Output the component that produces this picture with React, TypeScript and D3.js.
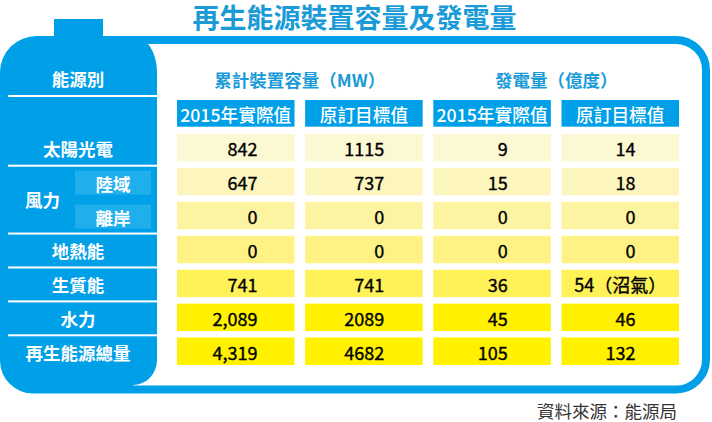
import React, { useEffect } from "react";
import * as d3 from "d3";

// ---- data ----
const title = "再生能源裝置容量及發電量";
const rowHeader = "能源別";
const groupHeaders = ["累計裝置容量（MW）", "發電量（億度）"];
const subHeaders = ["2015年實際值", "原訂目標值", "2015年實際值", "原訂目標值"];
const rowKeys = ["solar", "windOn", "windOff", "geo", "bio", "hydro", "total"];
const rowLabels = ["太陽光電", "陸域", "離岸", "地熱能", "生質能", "水力", "再生能源總量"];
const windGroupLabel = "風力";
const capacity2015 = [842, 647, 0, 0, 741, 2089, 4319];
const capacityTarget = [1115, 737, 0, 0, 741, 2089, 4682];
const generation2015 = [9, 15, 0, 0, 36, 45, 105];
const generationTarget = [14, 18, 0, 0, 54, 46, 132];
const generationTargetNote = ["", "", "", "", "（沼氣）", "", ""];
const sourceNote = "資料來源：能源局";

// ---- layout / style ----
const W = 712;
const H = 422;
const BLUE = "#00a0e9";
const SUB_BLUE = "#1fafed";
const TITLE_BLUE = "#1a9bd8";
const rowFills = ["#fbf8d3", "#fcf6be", "#fdf4a1", "#fef285", "#fff158", "#fff100", "#fff100"];
const colFormats = [",", "d", "d", "d"];
const colAnchorOffset = [80.5, 79, 74.5, 74];
const FONT = "'Noto Sans CJK TC', 'Noto Sans', sans-serif";

const columns = [capacity2015, capacityTarget, generation2015, generationTarget];

export default function App() {
  useEffect(() => {
    document.body.style.margin = "0";
  }, []);

  const x = d3.scaleBand<number>().domain([0, 1, 2, 3]).range([177, 679]).paddingInner(0.0832).paddingOuter(0);
  const y = d3.scaleBand<string>().domain(rowKeys).range([134, 365]).paddingInner(0.19).paddingOuter(0);
  const bw = x.bandwidth();
  const bh = y.bandwidth();
  const cy = (i: number) => (y(rowKeys[i]) as number) + bh / 2;

  const sepAfter = [0, 2, 3, 4, 5];
  const sepY = (i: number) => ((y(rowKeys[i]) as number) + bh + (y(rowKeys[i + 1]) as number)) / 2 + 1;

  const bodyPath =
    "M0,72 A37,36 0 0 1 37,36 L133,36 A24,36 0 0 1 157,72 L157,360 A24,25 0 0 1 133,385 L133,393.5 L33,393.5 A33,33 0 0 1 0,360.5 Z";
  const framePath = "M133,40 H676 A30,30 0 0 1 706,70 V359.5 A30,30 0 0 1 676,389.5 H133";

  const leftCx = 78;

  return (
    <div style={{ position: "absolute", left: 0, top: 0 }}>
      <svg width={W} height={H} viewBox={`0 0 ${W} ${H}`} style={{ display: "block", background: "#fff" }} fontFamily={FONT}>
        <rect x={0} y={0} width={W} height={H} fill="#fff" />
        <text x={354.5} y={16.5} textAnchor="middle" dominantBaseline="central" fontSize={27} fontWeight={700} fill={TITLE_BLUE}>
          {title}
        </text>

        <path d={framePath} fill="none" stroke={BLUE} strokeWidth={8} />
        <rect x={54} y={19} width={49} height={19} fill={BLUE} />
        <path d={bodyPath} fill={BLUE} />

        <text x={leftCx} y={78.5} textAnchor="middle" dominantBaseline="central" fontSize={17.5} fontWeight={700} fill="#fff">
          {rowHeader}
        </text>
        <rect x={8} y={95} width={149} height={2} fill="#fff" />
        {sepAfter.map((i) => (
          <rect key={"sep" + i} x={8} y={sepY(i) - 1} width={149} height={2} fill="#fff" />
        ))}

        {rowKeys.map((k, i) => {
          if (k === "windOn" || k === "windOff") {
            return (
              <g key={"lab" + k}>
                <rect x={75} y={cy(i) + 1 - 12} width={76} height={24} fill={SUB_BLUE} />
                <text x={113} y={cy(i) + 1.5} textAnchor="middle" dominantBaseline="central" fontSize={17.5} fontWeight={700} fill="#fff">
                  {rowLabels[i]}
                </text>
              </g>
            );
          }
          return (
            <text key={"lab" + k} x={leftCx} y={cy(i) + 1} textAnchor="middle" dominantBaseline="central" fontSize={17.5} fontWeight={700} fill="#fff">
              {rowLabels[i]}
            </text>
          );
        })}
        <text x={42.5} y={(cy(1) + cy(2)) / 2 + 1} textAnchor="middle" dominantBaseline="central" fontSize={17.5} fontWeight={700} fill="#fff">
          {windGroupLabel}
        </text>

        {groupHeaders.map((g, gi) => {
          const x0 = x(gi * 2) as number;
          const x1 = (x(gi * 2 + 1) as number) + bw;
          return (
            <text key={"gh" + gi} x={(x0 + x1) / 2} y={79} textAnchor="middle" dominantBaseline="central" fontSize={17.5} fontWeight={700} fill={TITLE_BLUE}>
              {g}
            </text>
          );
        })}

        {subHeaders.map((s, ci) => (
          <g key={"sh" + ci}>
            <rect x={x(ci) as number} y={100} width={bw} height={26.7} fill={BLUE} />
            <text x={(x(ci) as number) + bw / 2} y={113.5} textAnchor="middle" dominantBaseline="central" fontSize={17.7} fontWeight={500} fill="#fff">
              {s}
            </text>
          </g>
        ))}

        {rowKeys.map((k, ri) => (
          <g key={"row" + k}>
            {columns.map((col, ci) => {
              const x0 = x(ci) as number;
              const y0 = y(k) as number;
              const fmt = d3.format(colFormats[ci]);
              const note = ci === 3 ? generationTargetNote[ri] : "";
              return (
                <g key={"c" + ci}>
                  <rect x={x0} y={y0} width={bw} height={bh} fill={rowFills[ri]} />
                  {note ? (
                    <text x={x0 + bw / 2} y={y0 + bh / 2 + 0.5} textAnchor="middle" dominantBaseline="central" fontSize={18} fill="#000" stroke="#000" strokeWidth={0.35}>
                      {fmt(col[ri])}
                      {note}
                    </text>
                  ) : (
                    <text x={x0 + colAnchorOffset[ci]} y={y0 + bh / 2 + 0.5} textAnchor="end" dominantBaseline="central" fontSize={18} fill="#000" stroke="#000" strokeWidth={0.35}>
                      {fmt(col[ri])}
                    </text>
                  )}
                </g>
              );
            })}
          </g>
        ))}

        <text x={677} y={410} textAnchor="end" dominantBaseline="central" fontSize={17.5} fill="#333">
          {sourceNote}
        </text>
      </svg>
    </div>
  );
}
